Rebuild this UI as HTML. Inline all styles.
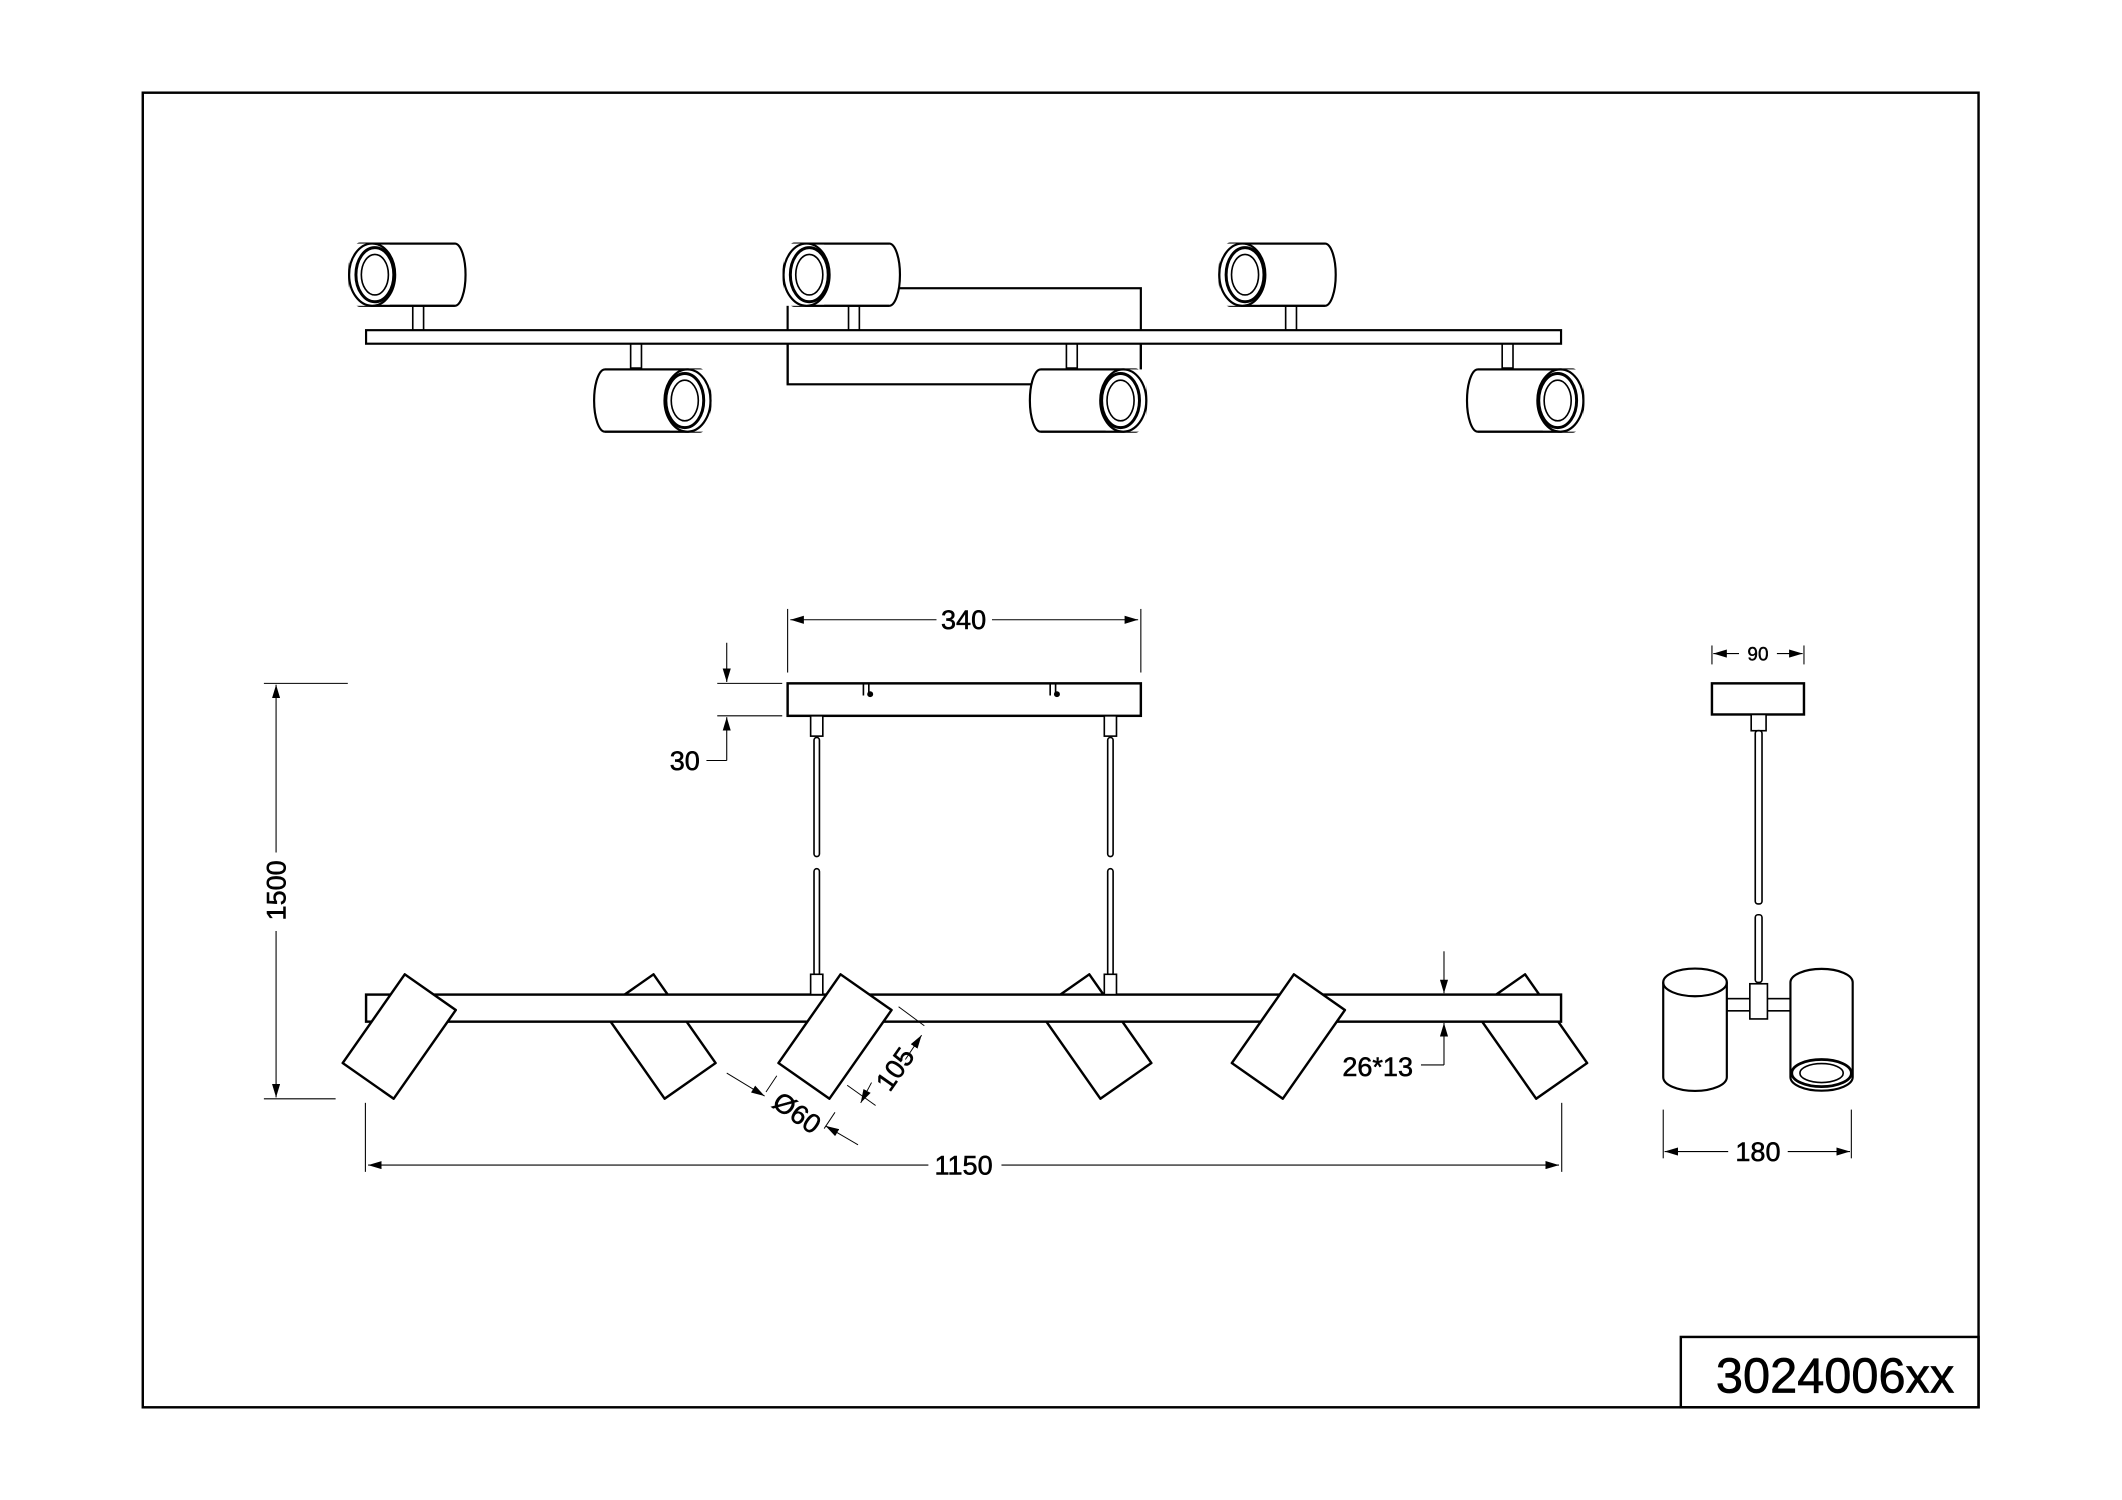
<!DOCTYPE html>
<html><head><style>html,body{margin:0;padding:0;background:#fff}svg{display:block}</style></head><body>
<svg xmlns="http://www.w3.org/2000/svg" width="2122" height="1500" viewBox="0 0 1568 1108.5" preserveAspectRatio="none" font-family="Liberation Sans, Arial, sans-serif">
<defs>
<marker id="a" viewBox="0 0 10 6" refX="10" refY="3" markerWidth="10" markerHeight="6" orient="auto-start-reverse" markerUnits="userSpaceOnUse"><path d="M0,0L10,3L0,6z" fill="#000"/></marker>
<g id="cylL">
<rect x="0" y="0" width="86" height="46" rx="8" ry="23" fill="#fff" stroke="#000" stroke-width="1.6"/>
<rect x="0" y="0" width="30" height="46" fill="#fff"/>
<line x1="16" y1="0" x2="78" y2="0" stroke="#000" stroke-width="1.6"/>
<line x1="16" y1="46" x2="78" y2="46" stroke="#000" stroke-width="1.6"/>
<ellipse cx="17" cy="23" rx="17" ry="23" fill="#fff" stroke="#000" stroke-width="1.6"/>
<ellipse cx="19" cy="23" rx="14" ry="20" fill="none" stroke="#000" stroke-width="2.2"/>
<ellipse cx="19" cy="23" rx="10" ry="15" fill="none" stroke="#000" stroke-width="1.2"/>
</g>
<g id="spot"><rect x="-23" y="-40" width="46" height="80" fill="#fff" stroke="#000" stroke-width="1.8" stroke-linejoin="round"/></g>
</defs>
<rect x="0" y="0" width="1568" height="1108.5" fill="#fff"/>
<g fill="none" stroke="#000">
<rect x="105.5" y="68.5" width="1356.5" height="971.5" stroke-width="1.8"/>
<rect x="1242" y="988" width="220" height="52" stroke-width="1.8"/>
</g>
<text x="1356" y="1029" font-size="36" text-anchor="middle" stroke="#000" stroke-width="0.5">3024006xx</text>

<!-- TOP VIEW -->
<rect x="582" y="213" width="261" height="71" fill="none" stroke="#000" stroke-width="1.6"/>
<g fill="#fff" stroke="#000" stroke-width="1.2">
<rect x="305" y="226" width="8" height="18"/><rect x="627" y="226" width="8" height="18"/><rect x="950" y="226" width="8" height="18"/>
<rect x="466" y="254" width="8" height="18"/><rect x="788" y="254" width="8" height="18"/><rect x="1110" y="254" width="8" height="18"/>
</g>
<rect x="270.5" y="244" width="883" height="10" fill="#fff" stroke="#000" stroke-width="1.6"/>
<line x1="582" y1="254" x2="582" y2="284" stroke="#000" stroke-width="1.6"/>
<line x1="843" y1="254" x2="843" y2="284" stroke="#000" stroke-width="1.6"/>
<use href="#cylL" x="258" y="180"/>
<use href="#cylL" x="579" y="180"/>
<use href="#cylL" x="901" y="180"/>
<use href="#cylL" transform="translate(525,273) scale(-1,1)"/>
<use href="#cylL" transform="translate(847,273) scale(-1,1)"/>
<use href="#cylL" transform="translate(1170,273) scale(-1,1)"/>

<!-- FRONT VIEW -->
<g stroke="#000" stroke-width="0.8" fill="none">
<line x1="582" y1="450" x2="582" y2="497"/><line x1="843" y1="450" x2="843" y2="497"/>
<line x1="584" y1="458" x2="692" y2="458" marker-start="url(#a)"/>
<line x1="733" y1="458" x2="841" y2="458" marker-end="url(#a)"/>
<line x1="530" y1="505" x2="578" y2="505"/><line x1="530" y1="529" x2="578" y2="529"/>
<line x1="537" y1="475" x2="537" y2="504" marker-end="url(#a)"/>
<line x1="537" y1="562" x2="537" y2="530" marker-end="url(#a)"/>
<line x1="537" y1="562" x2="522" y2="562"/>
<line x1="195" y1="505" x2="257" y2="505"/><line x1="195" y1="812" x2="248" y2="812"/>
<line x1="204" y1="630" x2="204" y2="506" marker-end="url(#a)"/>
<line x1="204" y1="688" x2="204" y2="811" marker-end="url(#a)"/>
<line x1="270" y1="815" x2="270" y2="866"/><line x1="1154" y1="815" x2="1154" y2="866"/>
<line x1="686" y1="861" x2="272" y2="861" marker-end="url(#a)"/>
<line x1="740" y1="861" x2="1152" y2="861" marker-end="url(#a)"/>
<line x1="1067" y1="703" x2="1067" y2="734" marker-end="url(#a)"/>
<line x1="1067" y1="787" x2="1067" y2="756" marker-end="url(#a)"/>
<line x1="1067" y1="787" x2="1050" y2="787"/>
</g>
<g font-size="20" text-anchor="middle" stroke="#000" stroke-width="0.4">
<text x="712" y="465">340</text>
<text x="506" y="569">30</text>
<text x="712" y="868">1150</text>
<text x="1018" y="795">26*13</text>
<text transform="translate(211,658) rotate(-90)">1500</text>
<text transform="translate(667,794) rotate(-55)">105</text>
<text transform="translate(585,828) rotate(35)">Ø60</text>
</g>

<rect x="582" y="505" width="261" height="24" fill="#fff" stroke="#000" stroke-width="1.8"/>
<g stroke="#000" stroke-width="1.2" fill="none">
<path d="M638,505v9M642,505v9M776,505v9M780,505v9"/>
</g>
<circle cx="643" cy="513" r="2.2"/><circle cx="781" cy="513" r="2.2"/>
<g fill="#fff" stroke="#000" stroke-width="1.2">
<rect x="599" y="529" width="9" height="15"/><rect x="816" y="529" width="9" height="15"/>
<rect x="601.5" y="545" width="4" height="88" rx="2"/><rect x="818.5" y="545" width="4" height="88" rx="2"/>
<rect x="601.5" y="642" width="4" height="79" rx="2"/><rect x="818.5" y="642" width="4" height="79" rx="2"/>
</g>
<use href="#spot" transform="translate(487,766) rotate(-35)"/>
<use href="#spot" transform="translate(809,766) rotate(-35)"/>
<use href="#spot" transform="translate(1131,766) rotate(-35)"/>
<rect x="270.5" y="735" width="883" height="20" fill="#fff" stroke="#000" stroke-width="1.8"/>
<g fill="#fff" stroke="#000" stroke-width="1.2">
<rect x="599" y="720" width="9" height="15"/><rect x="816" y="720" width="9" height="15"/>
</g>
<use href="#spot" transform="translate(295,766) rotate(35)"/>
<use href="#spot" transform="translate(617,766) rotate(35)"/>
<use href="#spot" transform="translate(952,766) rotate(35)"/>
<g stroke="#000" stroke-width="0.7" fill="none">
<line x1="664" y1="744" x2="683" y2="758"/>
<line x1="626" y1="802" x2="647" y2="817"/>
<line x1="669" y1="783" x2="681" y2="765" marker-end="url(#a)"/>
<line x1="644" y1="800" x2="636" y2="815" marker-end="url(#a)"/>
<line x1="574" y1="795" x2="566" y2="807"/>
<line x1="617" y1="822" x2="609" y2="834"/>
<line x1="537" y1="793" x2="565" y2="810" marker-end="url(#a)"/>
<line x1="634" y1="846" x2="610" y2="832" marker-end="url(#a)"/>
</g>

<!-- SIDE VIEW -->
<g stroke="#000" stroke-width="0.8" fill="none">
<line x1="1265" y1="477" x2="1265" y2="491"/><line x1="1333" y1="477" x2="1333" y2="491"/>
<line x1="1285" y1="483" x2="1266" y2="483" marker-end="url(#a)"/>
<line x1="1313" y1="483" x2="1332" y2="483" marker-end="url(#a)"/>
<line x1="1229" y1="820" x2="1229" y2="856"/><line x1="1368" y1="820" x2="1368" y2="856"/>
<line x1="1277" y1="851" x2="1230" y2="851" marker-end="url(#a)"/>
<line x1="1321" y1="851" x2="1367" y2="851" marker-end="url(#a)"/>
</g>
<text x="1299" y="488" font-size="14" text-anchor="middle" stroke="#000" stroke-width="0.3">90</text>
<text x="1299" y="858" font-size="20" text-anchor="middle" stroke="#000" stroke-width="0.4">180</text>
<rect x="1265" y="505" width="68" height="23" fill="#fff" stroke="#000" stroke-width="1.8"/>
<g fill="#fff" stroke="#000" stroke-width="1.2">
<rect x="1294" y="528" width="11" height="12"/>
<rect x="1297" y="540" width="5" height="128" rx="2"/>
<rect x="1297" y="676" width="5" height="50" rx="2"/>
<rect x="1276" y="738" width="47" height="9"/>
<rect x="1293" y="727" width="13" height="26"/>
<path d="M1229,726 A23,10 0 0 1 1276,726 V796 A23,10 0 0 1 1229,796 Z" stroke-width="1.6"/>
<path d="M1229,726 A23,10 0 0 0 1276,726" fill="none" stroke-width="1.6"/>
<path d="M1323,726 A23,10 0 0 1 1369,726 V796 A23,10 0 0 1 1323,796 Z" stroke-width="1.6"/>
<ellipse cx="1346" cy="793" rx="22" ry="10" fill="none" stroke-width="2"/>
<ellipse cx="1346" cy="793" rx="16" ry="7" fill="none" stroke-width="1.2"/>
</g>
</svg>
</body></html>
